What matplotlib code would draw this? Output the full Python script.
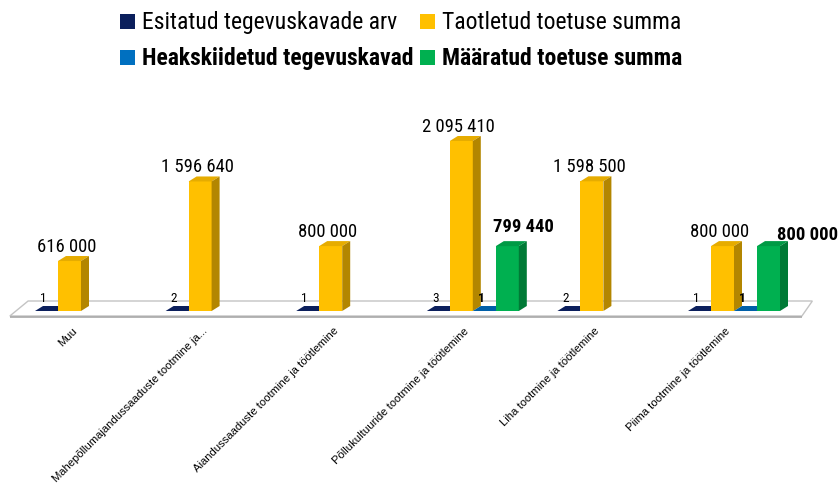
import numpy as np
import matplotlib
matplotlib.use("Agg")
import matplotlib.pyplot as plt
from matplotlib.patches import Polygon, Rectangle
from matplotlib import font_manager

# ---------------- data ----------------
categories = ["Muu",
              "Mahepõllumajandussaaduste tootmine ja...",
              "Aiandussaaduste tootmine ja töötlemine",
              "Põllukultuuride tootmine ja töötlemine",
              "Liha tootmine ja töötlemine",
              "Piima tootmine ja töötlemine"]
series_names = ["Esitatud tegevuskavade arv", "Taotletud toetuse summa",
                "Heakskiidetud tegevuskavad", "Määratud toetuse summa"]
esitatud = [1, 2, 1, 3, 2, 1]
taotletud = [616000, 1596640, 800000, 2095410, 1598500, 800000]
heakskiidetud = [np.nan, np.nan, np.nan, 1, np.nan, 1]
maaratud = [np.nan, np.nan, np.nan, 799440, np.nan, 800000]
series = [esitatud, taotletud, heakskiidetud, maaratud]

# ---------------- style ----------------
names = {f.name for f in font_manager.fontManager.ttflist}
FONT = next((n for n in ["Roboto Condensed", "Liberation Sans Narrow", "Roboto"] if n in names), "DejaVu Sans")
CATFONT = next((n for n in ["Liberation Sans", "Arial"] if n in names), "DejaVu Sans")
plt.rcParams['font.family'] = [FONT, 'DejaVu Sans']

front_c = ["#0B1F5C", "#FFC000", "#0070C0", "#00B050"]
top_c = ["#0B1F5C", "#E6AC00", "#005FA8", "#009A45"]
side_c = ["#061440", "#B38600", "#004F8C", "#007A36"]
bold = [False, False, True, True]

W, H, DPI = 838, 485, 100
fig = plt.figure(figsize=(W / DPI, H / DPI), dpi=DPI)
ax = fig.add_axes([0, 0, 1, 1])
ax.axis("off")

# pixel -> data mapping (layout)
PX_C0, PX_STEP = 81.0, 130.6           # x pixel of category 0, pixels per category
PX_BASE = 312.0                        # y pixel of value 0
S = max(taotletud) / 170.0             # value units per pixel
ax.set_xlim(-PX_C0 / PX_STEP, (W - PX_C0) / PX_STEP)
ax.set_ylim(-(H - PX_BASE) * S, PX_BASE * S)

px = 1.0 / PX_STEP                     # one pixel in x data units
py = S                                 # one pixel in y data units
bw = 23 * px
dx, dy = 8 * px, 5 * py
PT = 0.72                              # points per pixel

# floor
floor = Polygon([(-0.545, -5 * py), (5.52, -5 * py), (5.60, 10 * py), (-0.405, 10 * py)],
                closed=True, facecolor="white", edgecolor="#C4C4C4", lw=1.0, zorder=1)
ax.add_patch(floor)
ax.plot([-0.545, 5.52], [-6.2 * py, -6.2 * py], color="#A8A8A8", lw=1.2, zorder=1, solid_capstyle="butt")

xs = np.arange(len(categories))
for si, vals in enumerate(series):
    for ci, v in enumerate(vals):
        if np.isnan(v):
            continue
        x0 = xs[ci] + (si - 2) * bw
        ax.add_patch(Rectangle((x0, 0), bw, v, facecolor=front_c[si], edgecolor="none", zorder=3))
        ax.add_patch(Polygon([(x0, v), (x0 + bw, v), (x0 + bw + dx, v + dy), (x0 + dx, v + dy)],
                             closed=True, facecolor=top_c[si], edgecolor="none", zorder=3))
        ax.add_patch(Polygon([(x0 + bw, 0), (x0 + bw + dx, dy), (x0 + bw + dx, v + dy), (x0 + bw, v)],
                             closed=True, facecolor=side_c[si], edgecolor="none", zorder=3))

# data labels
def fmt(v):
    return f"{int(v):,}".replace(",", " ")

label_shift = {(3, 3): (16, 10), (3, 5): (39, 2)}   # manual label nudges in pixels (x, baseline gap)
for si, vals in enumerate(series):
    for ci, v in enumerate(vals):
        if np.isnan(v):
            continue
        x0 = xs[ci] + (si - 2) * bw
        ox, oy = label_shift.get((si, ci), (-3, 5))
        small = si in (0, 2)
        ax.annotate(fmt(v), (x0 + bw / 2, v + dy), xytext=(ox * PT, oy * PT),
                    textcoords="offset points", ha="center", va="baseline",
                    fontsize=9.5 if small else 13.4, fontweight="bold" if bold[si] else "normal",
                    color="black", zorder=5)

# category labels
for ci, name in enumerate(categories):
    ax.annotate(name, (xs[ci], 0), xytext=(-9 * PT, -14 * PT), textcoords="offset points",
                rotation=45, rotation_mode="anchor", ha="right", va="top", fontsize=8.1,
                family=[CATFONT, 'DejaVu Sans'], color="black")

# legend (manual)
leg_pos = [(120, 15), (420, 15), (120, 51), (420, 51)]
for si, (lx, ly) in enumerate(leg_pos):
    fig.patches.append(Rectangle((lx / W, 1 - (ly + 15) / H), 15 / W, 15 / H,
                                 transform=fig.transFigure, facecolor=front_c[si], edgecolor="none"))
    fig.text((lx + 22) / W, 1 - (ly + 7.5) / H, series_names[si], ha="left", va="center",
             fontsize=17, fontweight="bold" if bold[si] else "normal", color="black")

fig.savefig("out.png", dpi=DPI)
